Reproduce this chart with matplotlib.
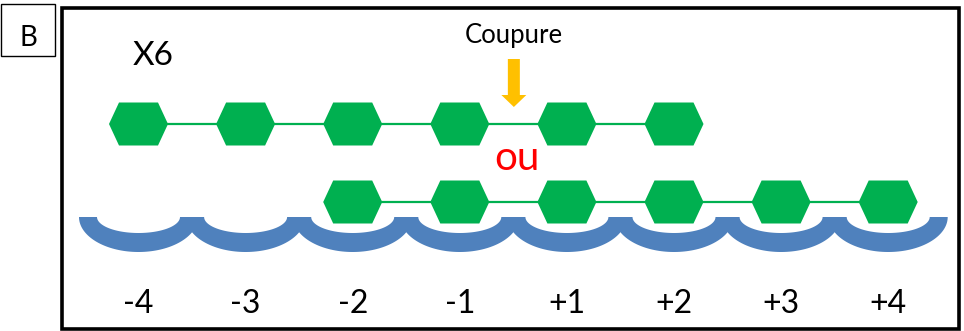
"""Panel B - hexasaccharide (X6) bound across subsites -4..+4, two binding modes."""

import matplotlib.pyplot as plt
import numpy as np
from matplotlib.patches import Polygon, Rectangle, FancyArrow

# subsite labels along the binding cleft
SITE_LABELS = ["-4", "-3", "-2", "-1", "+1", "+2", "+3", "+4"]
# subsite index of each sugar unit, for the two binding modes
MODE_TOP = [0, 1, 2, 3, 4, 5]
MODE_BOTTOM = [2, 3, 4, 5, 6, 7]
CUT_AFTER = 3.5          # cleavage between -1 and +1
SUBSTRATE = "X6"
CUT_TEXT = "Coupure"
OR_TEXT = "ou"
PANEL = "B"

GREEN = "#00B050"
BLUE = "#4F81BD"
ORANGE = "#FFC000"

# layout in pixel coordinates (y grows downwards)
X0, STEP = 138.5, 107.1
Y_TOP_ROW, Y_BOTTOM_ROW = 124, 202
ARC_TOP = 217
HEX_W, HEX_H, HEX_FLAT = 59, 43, 39

plt.rcParams["font.family"] = ["Lato", "DejaVu Sans"]

fig = plt.figure(figsize=(9.64, 3.31), dpi=100)
ax = fig.add_axes([0, 0, 1, 1])
ax.set_xlim(0, 964)
ax.set_ylim(331, 0)
ax.axis("off")


def site_x(i):
    return X0 + i * STEP


def hexagon(cx, cy):
    hw, hh, hf = HEX_W / 2, HEX_H / 2, HEX_FLAT / 2
    pts = [(cx - hw, cy), (cx - hf, cy - hh), (cx + hf, cy - hh),
           (cx + hw, cy), (cx + hf, cy + hh), (cx - hf, cy + hh)]
    ax.add_patch(Polygon(pts, closed=True, facecolor=GREEN, edgecolor="none", zorder=4))


def chain(sites, cy):
    xs = [site_x(i) for i in sites]
    ax.plot([xs[0], xs[-1]], [cy, cy], color=GREEN, lw=1.6, zorder=3)
    for x in xs:
        hexagon(x, cy)


# blue subsite arcs
t = np.linspace(0, np.pi, 80)
for i in range(len(SITE_LABELS)):
    cx = site_x(i)
    outer = np.column_stack([cx + 59.5 * np.cos(t), ARC_TOP + 35 * np.sin(t)])
    inner = np.column_stack([cx + 41.5 * np.cos(t[::-1]), ARC_TOP + 16 * np.sin(t[::-1])])
    ax.add_patch(Polygon(np.vstack([outer, inner]), closed=True,
                         facecolor=BLUE, edgecolor="none", zorder=2))
    ax.text(cx, 313, SITE_LABELS[i], ha="center", va="baseline", fontsize=23)

chain(MODE_TOP, Y_TOP_ROW)
chain(MODE_BOTTOM, Y_BOTTOM_ROW)

# cleavage arrow and labels
xc = site_x(CUT_AFTER) + 0.5
ax.add_patch(FancyArrow(xc, 59, 0, 48, width=12, head_width=25, head_length=12,
                        length_includes_head=True, color=ORANGE, lw=0, zorder=5))
ax.text(xc, 43, CUT_TEXT, ha="center", va="baseline", fontsize=18.5)
ax.text(xc + 3, 170, OR_TEXT, ha="center", va="baseline", fontsize=29, color="red")
ax.text(153, 65, SUBSTRATE, ha="center", va="baseline", fontsize=24)

# frames
ax.add_patch(Rectangle((62, 8), 896.7, 321.3, fill=False, edgecolor="black", lw=2.6, zorder=6))
ax.add_patch(Rectangle((0.5, 4), 54.5, 52, fill=False, edgecolor="black", lw=1.0, zorder=6))
ax.text(28, 45.5, PANEL, ha="center", va="baseline", fontsize=20)

fig.savefig("out.png", dpi=100)
